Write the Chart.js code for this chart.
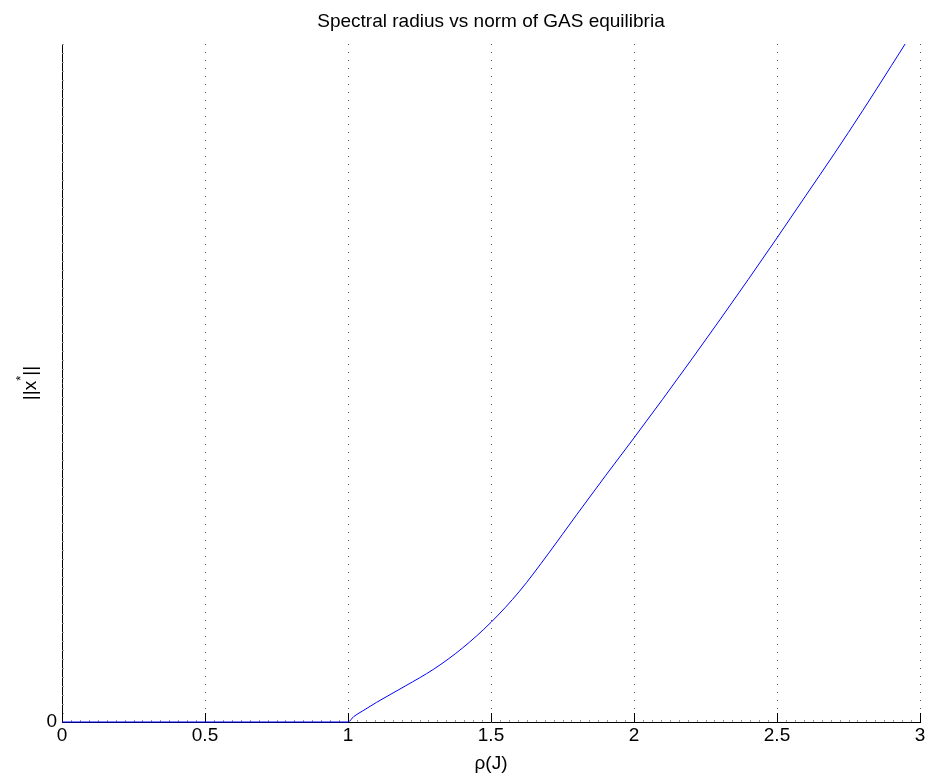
<!DOCTYPE html>
<html>
<head>
<meta charset="utf-8">
<script src="https://cdn.jsdelivr.net/npm/chart.js@4"></script>
<style>
  html, body { margin: 0; padding: 0; background: #fff; }
  #wrap { width: 928px; height: 778px; }
</style>
</head>
<body>
<div id="wrap"><canvas id="c" width="928" height="778"></canvas></div>
<script>
// spectral radius rho(J) vs ||x*|| (y in relative units, top of axis = 1)
var rhoValues  = [0, 0.5, 1.0, 1.02, 1.05, 1.1, 1.2, 1.3, 1.4, 1.5, 1.6, 1.7, 1.8, 1.9, 2.0, 2.1, 2.2, 2.3, 2.4, 2.5, 2.6, 2.7, 2.8, 2.9, 2.948];
var normValues = [0, 0, 0, 0.008, 0.016, 0.029, 0.053, 0.078, 0.109, 0.147, 0.193, 0.248, 0.306, 0.363, 0.419, 0.476, 0.534, 0.593, 0.653, 0.714, 0.776, 0.838, 0.902, 0.968, 1.0];
var xTicks = [0, 0.5, 1, 1.5, 2, 2.5, 3];
var yTicks = [0];

var pts = rhoValues.map(function (r, i) { return { x: r, y: normValues[i] }; });

var FONT = 'Liberation Sans, Arial, Helvetica, sans-serif';

// matlab style ticks pointing into the axes
var inwardTicks = {
  id: 'inwardTicks',
  beforeDatasetsDraw: function (chart) {
    var ctx = chart.ctx, xs = chart.scales.x, ys = chart.scales.y;
    var a = chart.chartArea;
    ctx.save();
    ctx.lineWidth = 1;
    // minor ticks
    ctx.strokeStyle = '#999';
    ctx.beginPath();
    for (var i = 0; i <= 96; i++) {
      if (i % 16 === 0) continue;
      var px = Math.round(xs.getPixelForValue(i / 32)) + 0.5;
      ctx.moveTo(px, a.bottom);
      ctx.lineTo(px, a.bottom - 2);
    }
    for (var j = 1; j <= 75; j++) {
      var py = Math.round(ys.getPixelForValue(j / 75)) + 0.5;
      ctx.moveTo(a.left, py);
      ctx.lineTo(a.left + 2, py);
    }
    ctx.stroke();
    // major x ticks
    ctx.strokeStyle = '#000';
    ctx.beginPath();
    xTicks.forEach(function (v) {
      var px = Math.round(xs.getPixelForValue(v)) + 0.5;
      ctx.moveTo(px, a.bottom);
      ctx.lineTo(px, a.bottom - 9);
    });
    ctx.stroke();
    ctx.restore();
  },
  afterDraw: function (chart) {
    var ctx = chart.ctx, a = chart.chartArea;
    ctx.save();
    ctx.fillStyle = '#000';
    ctx.font = '19px ' + FONT;
    ctx.textAlign = 'center';
    ctx.textBaseline = 'middle';
    ctx.fillText('Spectral radius vs norm of GAS equilibria', (a.left + a.right) / 2, 22);
    ctx.fillText('\u03C1(J)', (a.left + a.right) / 2, 764);
    // y label ||x*|| with superscript star
    ctx.translate(36, (a.top + a.bottom) / 2);
    ctx.rotate(-Math.PI / 2);
    ctx.textBaseline = 'alphabetic';
    ctx.textAlign = 'left';
    var p1 = '||x', p2 = '||';
    ctx.font = '19px ' + FONT;
    var w1 = ctx.measureText(p1).width;
    ctx.font = '13px ' + FONT;
    var ws = ctx.measureText('*').width;
    ctx.font = '19px ' + FONT;
    var w2 = ctx.measureText(p2).width;
    var x0 = -(w1 + ws + w2) / 2;
    ctx.fillText(p1, x0, 0);
    ctx.font = '13px ' + FONT;
    ctx.fillText('*', x0 + w1, -11);
    ctx.font = '19px ' + FONT;
    ctx.fillText(p2, x0 + w1 + ws, 0);
    ctx.restore();
  }
};

new Chart(document.getElementById('c'), {
  type: 'line',
  data: {
    datasets: [{
      data: pts,
      borderColor: '#0000ff',
      borderWidth: 1,
      pointRadius: 0,
      cubicInterpolationMode: 'monotone',
      fill: false,
      clip: 3
    }]
  },
  options: {
    responsive: false,
    animation: false,
    events: [],
    layout: { padding: { top: 44, right: 8, left: 0, bottom: 0 } },
    plugins: { legend: { display: false }, tooltip: { enabled: false }, title: { display: false } },
    scales: {
      x: {
        type: 'linear',
        min: 0, max: 3,
        afterBuildTicks: function (s) { s.ticks = xTicks.map(function (v) { return { value: v }; }); },
        afterFit: function (s) { s.height = 56; },
        ticks: {
          color: '#000',
          font: { family: FONT, size: 19 },
          padding: 2,
          maxRotation: 0,
          callback: function (v) { return String(v); }
        },
        grid: {
          drawTicks: false,
          color: function (c) { return c.tick && c.tick.value === 0 ? 'rgba(0,0,0,0)' : '#555'; },
          lineWidth: 1
        },
        border: { display: true, color: '#000', width: 1, dash: [1, 7] }
      },
      y: {
        type: 'linear',
        min: 0, max: 1,
        afterBuildTicks: function (s) { s.ticks = yTicks.map(function (v) { return { value: v }; }); },
        afterFit: function (s) { s.width = 62; },
        ticks: {
          color: '#000',
          font: { family: FONT, size: 19 },
          padding: 5,
          callback: function (v) { return String(v); }
        },
        grid: { display: false, drawTicks: false },
        border: { display: true, color: '#000', width: 1 }
      }
    }
  },
  plugins: [inwardTicks]
});
</script>
</body>
</html>
